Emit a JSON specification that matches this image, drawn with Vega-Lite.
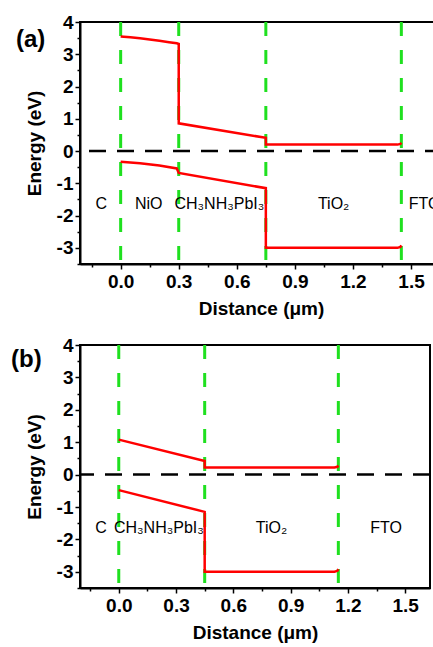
{
  "$schema": "https://vega.github.io/schema/vega-lite/v6.json",
  "padding": {"left": 10, "top": 12, "right": 0, "bottom": 0},
  "background": "white",
  "spacing": 81,
  "bounds": "flush",
  "config": {
    "font": "Liberation Sans",
    "view": {"stroke": "black", "strokeWidth": 2},
    "axis": {"grid": false, "domainColor": "black", "domainWidth": 2, "tickColor": "black", "tickWidth": 1.5, "labelColor": "black", "titleColor": "black", "labelFont": "Liberation Sans", "titleFont": "Liberation Sans", "labelFontWeight": "bold", "titleFontWeight": "bold", "labelFontSize": 19, "titleFontSize": 19}
  },
  "datasets": {
    "a_iface": [{"x": 0}, {"x": 0.3}, {"x": 0.75}, {"x": 1.45}],
    "b_iface": [{"x": 0}, {"x": 0.45}, {"x": 1.15}],
    "zero": [{"y": 0}],
    "a_bands": [
      {"band": "cb", "i": 0, "x": 0, "e": 3.55},
      {"band": "cb", "i": 1, "x": 0.05, "e": 3.525},
      {"band": "cb", "i": 2, "x": 0.1, "e": 3.495},
      {"band": "cb", "i": 3, "x": 0.15, "e": 3.46},
      {"band": "cb", "i": 4, "x": 0.2, "e": 3.42},
      {"band": "cb", "i": 5, "x": 0.25, "e": 3.375},
      {"band": "cb", "i": 6, "x": 0.29, "e": 3.34},
      {"band": "cb", "i": 7, "x": 0.3, "e": 3.32},
      {"band": "cb", "i": 8, "x": 0.3, "e": 0.86},
      {"band": "cb", "i": 9, "x": 0.75, "e": 0.41},
      {"band": "cb", "i": 10, "x": 0.75, "e": 0.2},
      {"band": "cb", "i": 11, "x": 1.43, "e": 0.2},
      {"band": "cb", "i": 12, "x": 1.445, "e": 0.22},
      {"band": "cb", "i": 13, "x": 1.45, "e": 0.26},
      {"band": "vb", "i": 0, "x": 0, "e": -0.33},
      {"band": "vb", "i": 1, "x": 0.1, "e": -0.38},
      {"band": "vb", "i": 2, "x": 0.2, "e": -0.45},
      {"band": "vb", "i": 3, "x": 0.29, "e": -0.54},
      {"band": "vb", "i": 4, "x": 0.3, "e": -0.68},
      {"band": "vb", "i": 5, "x": 0.75, "e": -1.15},
      {"band": "vb", "i": 6, "x": 0.75, "e": -3.0},
      {"band": "vb", "i": 7, "x": 1.43, "e": -3.0},
      {"band": "vb", "i": 8, "x": 1.445, "e": -2.97},
      {"band": "vb", "i": 9, "x": 1.45, "e": -2.92}
    ],
    "b_bands": [
      {"band": "cb", "i": 0, "x": 0, "e": 1.08},
      {"band": "cb", "i": 1, "x": 0.45, "e": 0.42},
      {"band": "cb", "i": 2, "x": 0.45, "e": 0.22},
      {"band": "cb", "i": 3, "x": 1.13, "e": 0.22},
      {"band": "cb", "i": 4, "x": 1.145, "e": 0.24},
      {"band": "cb", "i": 5, "x": 1.15, "e": 0.28},
      {"band": "vb", "i": 0, "x": 0, "e": -0.48},
      {"band": "vb", "i": 1, "x": 0.45, "e": -1.15},
      {"band": "vb", "i": 2, "x": 0.45, "e": -3.0},
      {"band": "vb", "i": 3, "x": 1.13, "e": -3.0},
      {"band": "vb", "i": 4, "x": 1.145, "e": -2.97},
      {"band": "vb", "i": 5, "x": 1.15, "e": -2.92}
    ],
    "a_labels": [
      {"t": "C", "x": -0.1, "y": -1.64},
      {"t": "NiO", "x": 0.145, "y": -1.64},
      {"t": "CH₃NH₃PbI₃", "x": 0.51, "y": -1.64},
      {"t": "TiO₂", "x": 1.1, "y": -1.64},
      {"t": "FTO", "x": 1.57, "y": -1.64}
    ],
    "b_labels": [
      {"t": "C", "x": -0.093, "y": -1.65},
      {"t": "CH₃NH₃PbI₃", "x": 0.21, "y": -1.65},
      {"t": "TiO₂", "x": 0.8, "y": -1.65},
      {"t": "FTO", "x": 1.4, "y": -1.65}
    ],
    "a_tag": [{"t": "(a)", "x": -0.541, "y": 3.44}],
    "b_tag": [{"t": "(b)", "x": -0.564, "y": 3.54}]
  },
  "vconcat": [
    {
      "width": 362,
      "height": 242,
      "resolve": {"axis": {"x": "independent", "y": "independent"}},
      "layer": [
        {
          "data": {"name": "zero"},
          "mark": {"type": "rule", "color": "black", "strokeWidth": 2.5, "strokeDash": [17, 11]},
          "encoding": {
            "y": {"field": "y", "type": "quantitative", "scale": {"domain": [-3.5, 4], "nice": false, "zero": false},
                  "axis": {"orient": "left", "values": [-3.5, -2.5, -1.5, -0.5, 0.5, 1.5, 2.5, 3.5], "labels": false, "domain": false, "tickSize": 3, "title": null}}
          }
        },
        {
          "data": {"name": "a_iface"},
          "mark": {"type": "rule", "color": "#1fe01f", "strokeWidth": 3, "strokeDash": [14, 14]},
          "encoding": {
            "x": {"field": "x", "type": "quantitative", "scale": {"domain": [-0.21, 1.66], "nice": false, "zero": false},
                  "axis": {"orient": "bottom", "values": [-0.15, 0.15, 0.45, 0.75, 1.05, 1.35], "labels": false, "domain": false, "tickSize": 3, "title": null}}
          }
        },
        {
          "data": {"name": "a_bands"},
          "mark": {"type": "line", "color": "#ff0000", "strokeWidth": 2.5},
          "encoding": {
            "x": {"field": "x", "type": "quantitative", "scale": {"domain": [-0.21, 1.66], "nice": false, "zero": false},
                  "axis": {"orient": "bottom", "values": [0, 0.3, 0.6, 0.9, 1.2, 1.5], "format": ".1f", "tickSize": 5, "labelPadding": 3, "title": "Distance (μm)", "titlePadding": 8}},
            "y": {"field": "e", "type": "quantitative", "scale": {"domain": [-3.5, 4], "nice": false, "zero": false},
                  "axis": {"orient": "left", "values": [-3, -2, -1, 0, 1, 2, 3, 4], "labelExpr": "'' + datum.value", "tickSize": 5, "labelPadding": 2, "title": "Energy (eV)", "titlePadding": 12}},
            "detail": {"field": "band"},
            "order": {"field": "i", "type": "quantitative"}
          }
        },
        {
          "data": {"name": "a_labels"},
          "mark": {"type": "text", "font": "Liberation Sans", "fontSize": 16, "color": "black", "baseline": "middle", "align": "center"},
          "encoding": {
            "x": {"field": "x", "type": "quantitative", "axis": null},
            "y": {"field": "y", "type": "quantitative", "axis": null},
            "text": {"field": "t"}
          }
        },
        {
          "data": {"name": "a_tag"},
          "mark": {"type": "text", "font": "Liberation Sans", "fontSize": 24, "fontWeight": "bold", "color": "black", "baseline": "middle", "align": "left"},
          "encoding": {
            "x": {"field": "x", "type": "quantitative", "axis": null},
            "y": {"field": "y", "type": "quantitative", "axis": null},
            "text": {"field": "t"}
          }
        }
      ]
    },
    {
      "width": 350,
      "height": 243,
      "resolve": {"axis": {"x": "independent", "y": "independent"}},
      "layer": [
        {
          "data": {"name": "zero"},
          "mark": {"type": "rule", "color": "black", "strokeWidth": 2.5, "strokeDash": [17, 11]},
          "encoding": {
            "y": {"field": "y", "type": "quantitative", "scale": {"domain": [-3.5, 4], "nice": false, "zero": false},
                  "axis": {"orient": "left", "values": [-3.5, -2.5, -1.5, -0.5, 0.5, 1.5, 2.5, 3.5], "labels": false, "domain": false, "tickSize": 3, "title": null}}
          }
        },
        {
          "data": {"name": "b_iface"},
          "mark": {"type": "rule", "color": "#1fe01f", "strokeWidth": 3, "strokeDash": [14, 14]},
          "encoding": {
            "x": {"field": "x", "type": "quantitative", "scale": {"domain": [-0.203, 1.63], "nice": false, "zero": false},
                  "axis": {"orient": "bottom", "values": [-0.15, 0.15, 0.45, 0.75, 1.05, 1.35], "labels": false, "domain": false, "tickSize": 3, "title": null}}
          }
        },
        {
          "data": {"name": "b_bands"},
          "mark": {"type": "line", "color": "#ff0000", "strokeWidth": 2.5},
          "encoding": {
            "x": {"field": "x", "type": "quantitative", "scale": {"domain": [-0.203, 1.63], "nice": false, "zero": false},
                  "axis": {"orient": "bottom", "values": [0, 0.3, 0.6, 0.9, 1.2, 1.5], "format": ".1f", "tickSize": 5, "labelPadding": 3, "title": "Distance (μm)", "titlePadding": 8}},
            "y": {"field": "e", "type": "quantitative", "scale": {"domain": [-3.5, 4], "nice": false, "zero": false},
                  "axis": {"orient": "left", "values": [-3, -2, -1, 0, 1, 2, 3, 4], "labelExpr": "'' + datum.value", "tickSize": 5, "labelPadding": 2, "title": "Energy (eV)", "titlePadding": 12}},
            "detail": {"field": "band"},
            "order": {"field": "i", "type": "quantitative"}
          }
        },
        {
          "data": {"name": "b_labels"},
          "mark": {"type": "text", "font": "Liberation Sans", "fontSize": 16, "color": "black", "baseline": "middle", "align": "center"},
          "encoding": {
            "x": {"field": "x", "type": "quantitative", "axis": null},
            "y": {"field": "y", "type": "quantitative", "axis": null},
            "text": {"field": "t"}
          }
        },
        {
          "data": {"name": "b_tag"},
          "mark": {"type": "text", "font": "Liberation Sans", "fontSize": 24, "fontWeight": "bold", "color": "black", "baseline": "middle", "align": "left"},
          "encoding": {
            "x": {"field": "x", "type": "quantitative", "axis": null},
            "y": {"field": "y", "type": "quantitative", "axis": null},
            "text": {"field": "t"}
          }
        }
      ]
    }
  ]
}
